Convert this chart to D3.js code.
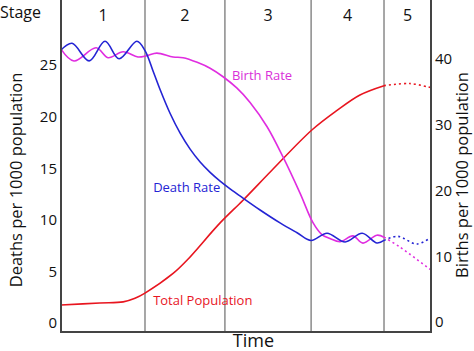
<!DOCTYPE html>
<html>
<head>
<meta charset="utf-8">
<script src="https://cdn.jsdelivr.net/npm/d3@7"></script>
<style>
  body { margin: 0; background: #fff; }
  svg { display: block; font-family: "Open Sans", sans-serif; }
</style>
</head>
<body>
<div id="chart"></div>
<script>
// stages of the demographic transition
const stageLabels = ['1', '2', '3', '4', '5'];
const stageBounds = [0, 22.7, 44.3, 67.6, 87.3, 100];
const projectedFrom = 87.3; // stage 5 is drawn dotted

const leftTicks = [0, 5, 10, 15, 20, 25];
const rightTicks = [0, 10, 20, 30, 40];

// [time, deaths per 1000] on the left axis
const deathRate = [
  [0, 26.45], [3.0, 27.1], [7.6, 25.4], [11.9, 27.3], [15.7, 25.6], [20.5, 27.3],
  [22.7, 26.4], [24.9, 24.4], [26.8, 22.6], [29.5, 20.3], [32.2, 18.4], [34.9, 16.85],
  [37.6, 15.6], [40.3, 14.6], [43.0, 13.75], [45.7, 13.0], [49.2, 12.1], [53.8, 10.95],
  [59.2, 9.7], [63.8, 8.75], [67.6, 8.0], [71.9, 8.7], [76.8, 7.85],
  [81.4, 8.7], [85.4, 7.75], [87.3, 8.0], [91, 8.4], [96.2, 7.65], [100, 8.3]
];

// [time, births per 1000] on the right axis
const birthRate = [
  [0, 41.5], [3.5, 39.7], [9.5, 41.7], [12.7, 40.2], [16.8, 41.1], [20.8, 40.3],
  [23.2, 40.5], [25.9, 40.9], [30.3, 40.3], [33, 40.2], [36.8, 39.5], [40.3, 38.6],
  [43.8, 37.3], [47.5, 35.6], [51.1, 33.4], [55.7, 29.7], [60, 25.1], [64.6, 19.6],
  [68.1, 15.1], [70.5, 13.3], [72.7, 12.7], [75.4, 12.2], [78.9, 13.1], [81.6, 12.0],
  [85.4, 13.2], [87.3, 12.9], [91.6, 11.4], [100, 7.9]
];

// [time, relative size] drawn against the left axis
const totalPopulation = [
  [0, 1.74], [10.5, 1.94], [16.8, 2.05], [20, 2.4], [22.7, 2.9], [30.3, 4.8],
  [34.1, 6.1], [43.0, 9.7], [49.2, 11.9], [57, 14.8], [67.8, 18.7],
  [74.6, 20.6], [80.8, 22.1], [87.3, 23.0], [94.3, 23.2], [100, 22.8]
];

const width = 474, height = 351;
const plot = { left: 61, right: 431, top: 0, bottom: 332 };

const svg = d3.select('#chart')
  .append('svg')
  .attr('width', width)
  .attr('height', height);

const x = d3.scaleLinear().domain([0, 100]).range([plot.left, plot.right]);
const yL = d3.scaleLinear().domain([0, 25]).range([323, 65]);
const yR = d3.scaleLinear().domain([0, 40]).range([322, 59]);

// stage dividers
svg.append('g')
  .selectAll('line')
  .data(stageBounds.slice(1, -1))
  .join('line')
  .attr('x1', d => x(d)).attr('x2', d => x(d))
  .attr('y1', plot.top).attr('y2', plot.bottom)
  .attr('stroke', '#8a8a8a')
  .attr('stroke-width', 1.5);

// stage numbers
svg.append('g')
  .selectAll('text')
  .data(stageLabels)
  .join('text')
  .attr('x', (d, i) => x((stageBounds[i] + stageBounds[i + 1]) / 2))
  .attr('y', 21)
  .attr('text-anchor', 'middle')
  .attr('font-size', 16)
  .attr('fill', '#111')
  .text(d => d);

svg.append('text')
  .attr('x', 0).attr('y', 18)
  .attr('font-size', 16)
  .attr('fill', '#111')
  .text('Stage');

// curves
function drawSeries(data, yScale, color) {
  const line = d3.line()
    .x(d => x(d[0]))
    .y(d => yScale(d[1]))
    .curve(d3.curveCatmullRom.alpha(0.5));
  const solid = data.filter(d => d[0] <= projectedFrom);
  const dotted = data.filter(d => d[0] >= projectedFrom);
  svg.append('path')
    .datum(solid)
    .attr('fill', 'none')
    .attr('stroke', color)
    .attr('stroke-width', 1.6)
    .attr('d', line);
  svg.append('path')
    .datum(dotted)
    .attr('fill', 'none')
    .attr('stroke', color)
    .attr('stroke-width', 1.6)
    .attr('stroke-dasharray', '2,3')
    .attr('d', line);
}

drawSeries(totalPopulation, yL, '#e8151f');
drawSeries(birthRate, yR, '#e02de0');
drawSeries(deathRate, yL, '#2424d4');

// series labels
svg.append('text')
  .attr('x', x(46.2)).attr('y', yR(36.8))
  .attr('font-size', 13).attr('fill', '#d92fd9')
  .text('Birth Rate');

svg.append('text')
  .attr('x', x(24.9)).attr('y', yL(12.7))
  .attr('font-size', 13).attr('fill', '#2424d4')
  .text('Death Rate');

svg.append('text')
  .attr('x', x(24.9)).attr('y', yL(1.74))
  .attr('font-size', 13).attr('fill', '#e8151f')
  .text('Total Population');

// axes
const gLeft = svg.append('g')
  .attr('transform', `translate(${plot.left},0)`)
  .call(d3.axisLeft(yL).tickValues(leftTicks).tickSize(0).tickPadding(4));

const gRight = svg.append('g')
  .attr('transform', `translate(${plot.right},0)`)
  .call(d3.axisRight(yR).tickValues(rightTicks).tickSize(0).tickPadding(4));

[gLeft, gRight].forEach(g => {
  g.select('.domain').remove();
  g.selectAll('text')
    .attr('font-size', 15)
    .attr('font-family', '"Open Sans", sans-serif')
    .attr('fill', '#111');
});

svg.append('path')
  .attr('d', `M${plot.left},${plot.top}V${plot.bottom}H${plot.right}V${plot.top}`)
  .attr('fill', 'none')
  .attr('stroke', '#444')
  .attr('stroke-width', 2);

// axis titles
svg.append('text')
  .attr('transform', 'translate(22,180) rotate(-90)')
  .attr('text-anchor', 'middle')
  .attr('font-size', 16.5)
  .attr('fill', '#111')
  .text('Deaths per 1000 population');

svg.append('text')
  .attr('transform', 'translate(468,175) rotate(-90)')
  .attr('text-anchor', 'middle')
  .attr('font-size', 16.5)
  .attr('fill', '#111')
  .text('Births per 1000 population');

svg.append('text')
  .attr('x', x(52)).attr('y', 347)
  .attr('text-anchor', 'middle')
  .attr('font-size', 18)
  .attr('fill', '#111')
  .text('Time');
</script>
</body>
</html>
